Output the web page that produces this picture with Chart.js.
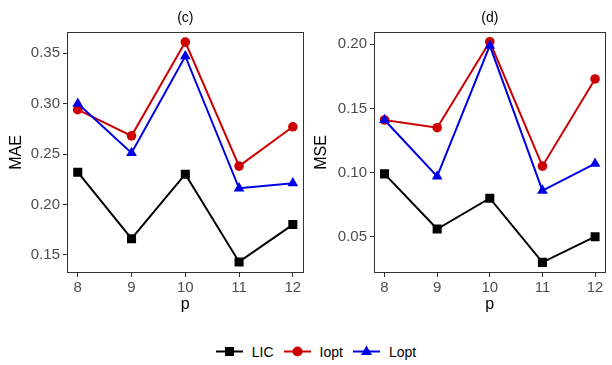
<!DOCTYPE html>
<html>
<head>
<meta charset="utf-8">
<script src="https://cdn.jsdelivr.net/npm/chart.js@4.4.0/dist/chart.umd.min.js"></script>
<style>
  body{margin:0;background:#fff;width:612px;height:365px;overflow:hidden;font-family:"Liberation Sans",Arial,sans-serif;}
  .panel{position:absolute;top:0;height:320px;}
  #legend{position:absolute;top:343px;left:10px;width:612px;display:flex;justify-content:center;align-items:center;font-size:14px;color:#000;}
  .lg-item{display:flex;align-items:center;margin:0 5px;}
  .lg-item svg{margin-right:9px;}
</style>
</head>
<body>
<div class="panel" style="left:0;width:310px"><canvas id="mae"></canvas></div>
<div class="panel" style="left:305px;width:307px"><canvas id="mse"></canvas></div>
<div id="legend"></div>
<script>
const pValues = [8, 9, 10, 11, 12];
const seriesNames = ['LIC', 'Iopt', 'Lopt'];
const maeLIC  = [0.232, 0.166, 0.230, 0.143, 0.180];
const maeIopt = [0.294, 0.268, 0.361, 0.238, 0.277];
const maeLopt = [0.300, 0.251, 0.347, 0.216, 0.221];
const mseLIC  = [0.099, 0.056, 0.080, 0.030, 0.050];
const mseIopt = [0.141, 0.135, 0.202, 0.105, 0.173];
const mseLopt = [0.141, 0.097, 0.199, 0.086, 0.107];
const maeTicks = [0.15, 0.20, 0.25, 0.30, 0.35];
const mseTicks = [0.05, 0.10, 0.15, 0.20];

const colors = ['#000000', '#CC0000', '#0000E6'];
const shapes = ['rect', 'circle', 'triangle'];
const radii = [6.4, 4.8, 6.2];
const FONT = '"Liberation Sans", Arial, sans-serif';

// frame around plot area + panel title
const framePlugin = {
  id: 'frame',
  afterDraw(chart, args, opts){
    const {ctx, chartArea:a} = chart;
    ctx.save();
    ctx.strokeStyle = '#333333';
    ctx.lineWidth = 1;
    ctx.strokeRect(Math.round(a.left)+0.5, Math.round(a.top)+0.5, Math.round(a.right-a.left)-1, Math.round(a.bottom-a.top)-1);
    ctx.fillStyle = '#000';
    ctx.font = '14px ' + FONT;
    ctx.textAlign = 'center';
    ctx.textBaseline = 'middle';
    ctx.fillText(opts.text, (a.left+a.right)/2, a.top - 14);
    ctx.restore();
  }
};

function makeChart(id, vals, yTicks, yMin, yMax, yTitle, panelTitle, axisW, padRight){
  const datasets = vals.map((v,i)=>({
    label: seriesNames[i],
    data: pValues.map((p,j)=>({x:p, y:v[j]})),
    borderColor: colors[i],
    backgroundColor: colors[i],
    borderWidth: 2,
    pointStyle: shapes[i],
    pointRadius: radii[i],
    pointHoverRadius: radii[i],
    pointBorderWidth: 0,
    order: 3 - i
  }));
  return new Chart(document.getElementById(id), {
    type: 'line',
    data: {datasets},
    plugins: [framePlugin],
    options: {
      responsive: false,
      animation: false,
      layout: {padding: {top: 32, right: padRight, left: 0, bottom: 0}},
      plugins: {legend: {display:false}, tooltip: {enabled:false}, frame: {text: panelTitle}},
      scales: {
        x: {
          type: 'linear', min: 7.8, max: 12.2,
          afterBuildTicks: s => { s.ticks = pValues.map(v=>({value:v})); },
          afterFit: s => { s.height = 47; },
          grid: {drawOnChartArea:false, drawTicks:true, tickLength:4, color:'#333333'},
          border: {display:false},
          ticks: {color:'#4D4D4D', font:{size:15, family:FONT}, padding:2, maxRotation:0},
          title: {display:true, text:'p', color:'#000', font:{size:16, family:FONT}, padding:{top:0, bottom:6}}
        },
        y: {
          min: yMin, max: yMax,
          afterBuildTicks: s => { s.ticks = yTicks.map(v=>({value:v})); },
          afterFit: s => { s.width = axisW; },
          grid: {drawOnChartArea:false, drawTicks:true, tickLength:4, color:'#333333'},
          border: {display:false},
          ticks: {color:'#4D4D4D', font:{size:15, family:FONT}, padding:3, callback: v => v.toFixed(2)},
          title: {display:true, text:yTitle, color:'#000', font:{size:16, family:FONT}, padding:{top:7, bottom:6}}
        }
      }
    }
  });
}

function sizeCanvas(id, w, h){
  const c = document.getElementById(id);
  c.width = w; c.height = h; c.style.width = w+'px'; c.style.height = h+'px';
}
sizeCanvas('mae', 310, 320);
sizeCanvas('mse', 307, 320);
makeChart('mae', [maeLIC, maeIopt, maeLopt], maeTicks, 0.132, 0.371, 'MAE', '(c)', 67, 6);
makeChart('mse', [mseLIC, mseIopt, mseLopt], mseTicks, 0.0217, 0.2096, 'MSE', '(d)', 69, 1);

// legend
const legend = document.getElementById('legend');
seriesNames.forEach((name,i)=>{
  const item = document.createElement('div');
  item.className = 'lg-item';
  let mark = '';
  if(shapes[i]==='rect') mark = `<rect x="9" y="4" width="9" height="9" fill="${colors[i]}"/>`;
  else if(shapes[i]==='circle') mark = `<circle cx="13.5" cy="8.5" r="5" fill="${colors[i]}"/>`;
  else mark = `<polygon points="13.5,2.5 19,12 8,12" fill="${colors[i]}"/>`;
  item.innerHTML = `<svg width="27" height="17"><line x1="0" y1="8.5" x2="27" y2="8.5" stroke="${colors[i]}" stroke-width="2"/>${mark}</svg><span>${name}</span>`;
  legend.appendChild(item);
});
</script>
</body>
</html>
